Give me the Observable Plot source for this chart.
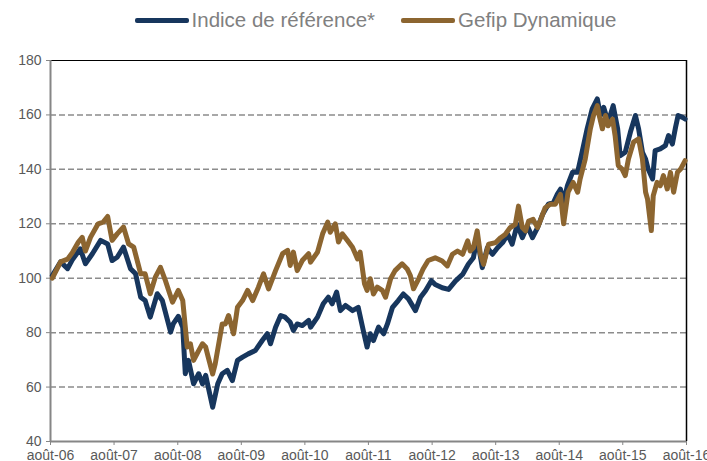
<!DOCTYPE html>
<html>
<head>
<meta charset="utf-8">
<script src="https://cdn.jsdelivr.net/npm/d3@7"></script>
<script src="https://cdn.jsdelivr.net/npm/@observablehq/plot@0.6"></script>
<style>
  html, body { margin: 0; padding: 0; background: #fff; overflow: hidden; }
  #wrap { width: 707px; height: 461px; overflow: hidden; position: relative; font-family: Arial, "Liberation Sans", sans-serif; }
  #legend { height: 40px; display: flex; justify-content: center; align-items: center; gap: 26px; font-size: 20.5px; color: #808080; padding-left: 44px; box-sizing: border-box; }
  #legend span.item { display: flex; align-items: center; }
  #legend span.sw { display: inline-block; width: 54px; height: 5px; border-radius: 2px; margin-right: 3px; }
</style>
</head>
<body>
<div id="wrap">
  <div id="legend"></div>
  <div id="chart"></div>
</div>
<script>
// ---- data (decimal years, index values) ----
const seriesNames = ["Indice de référence*", "Gefip Dynamique"];
const seriesColors = ["#17365d", "#8c6530"];

const indiceT = [2006.61,2006.74,2006.85,2006.93,2007.05,2007.13,2007.24,2007.37,2007.48,2007.55,2007.63,2007.73,2007.84,2007.92,2008.00,2008.07,2008.15,2008.26,2008.34,2008.47,2008.51,2008.59,2008.66,2008.70,2008.75,2008.83,2008.91,2008.97,2009.02,2009.06,2009.13,2009.21,2009.28,2009.36,2009.44,2009.52,2009.60,2009.69,2009.80,2009.91,2009.99,2010.04,2010.12,2010.20,2010.27,2010.35,2010.40,2010.46,2010.54,2010.64,2010.67,2010.78,2010.87,2010.95,2011.01,2011.08,2011.14,2011.22,2011.33,2011.42,2011.50,2011.56,2011.61,2011.66,2011.74,2011.82,2011.88,2011.96,2012.05,2012.13,2012.21,2012.32,2012.40,2012.48,2012.57,2012.63,2012.74,2012.84,2012.95,2013.06,2013.15,2013.23,2013.29,2013.37,2013.45,2013.53,2013.61,2013.69,2013.77,2013.84,2013.92,2014.00,2014.08,2014.16,2014.24,2014.32,2014.41,2014.49,2014.55,2014.60,2014.65,2014.71,2014.79,2014.87,2014.94,2015.02,2015.10,2015.18,2015.23,2015.28,2015.35,2015.43,2015.50,2015.54,2015.62,2015.70,2015.78,2015.83,2015.89,2015.94,2015.98,2016.05,2016.09,2016.17,2016.25,2016.30,2016.36,2016.41,2016.45,2016.52,2016.56];
const indiceV = [101,106,103.5,107,110.8,105.3,109,113.9,112.6,106.5,107.7,111.4,103.5,101.6,93,91.8,85.7,94.3,91.8,80.2,83.2,86,82,64.9,69.8,61.2,64.9,61.2,64.3,60,52.6,61.2,64.9,66.1,62.4,69.8,71,72.2,73.4,77.1,79.6,75.9,82,86.3,85.7,83.8,80.8,83.2,82.6,84.5,82,85.7,90.6,93,90.6,94.9,88.1,90,88.1,89.3,80.8,74.7,79.6,77.1,82,79.6,83.2,89.3,91.8,94.2,92.4,88.1,93,95.5,99.1,97.7,96.5,95.9,99,101.4,105.1,107.5,114.9,103.9,111.2,108.8,111.2,113.1,116.1,112.5,119.8,114.9,119.2,114.9,118.6,123.5,127.2,127.8,130.8,132.7,128,134,138.9,138.9,146.3,154.9,162.2,165.9,159.8,162.8,157.3,163.4,154.9,145,146.3,153.6,159.8,154.9,146.3,143.8,140.1,136.5,146.9,147.5,148.7,152.4,149.3,155.5,159.8,159.1,158.5];

const gefipT = [2006.61,2006.74,2006.85,2006.93,2007.02,2007.08,2007.13,2007.21,2007.33,2007.41,2007.48,2007.55,2007.63,2007.73,2007.81,2007.89,2008.00,2008.07,2008.15,2008.23,2008.31,2008.39,2008.50,2008.59,2008.66,2008.73,2008.78,2008.83,2008.91,2008.97,2009.02,2009.06,2009.13,2009.17,2009.28,2009.33,2009.38,2009.46,2009.52,2009.60,2009.68,2009.76,2009.85,2009.93,2010.01,2010.12,2010.23,2010.31,2010.35,2010.40,2010.46,2010.54,2010.64,2010.67,2010.78,2010.86,2010.94,2010.98,2011.06,2011.11,2011.17,2011.25,2011.33,2011.41,2011.45,2011.52,2011.56,2011.61,2011.66,2011.72,2011.80,2011.85,2011.93,2012.00,2012.11,2012.19,2012.24,2012.29,2012.37,2012.44,2012.52,2012.63,2012.74,2012.82,2012.90,2012.98,2013.06,2013.14,2013.18,2013.23,2013.29,2013.34,2013.39,2013.47,2013.58,2013.66,2013.73,2013.81,2013.89,2013.94,2014.00,2014.05,2014.10,2014.17,2014.24,2014.28,2014.36,2014.44,2014.52,2014.60,2014.65,2014.72,2014.80,2014.87,2014.91,2014.99,2015.07,2015.12,2015.18,2015.21,2015.26,2015.31,2015.35,2015.42,2015.46,2015.51,2015.57,2015.62,2015.67,2015.75,2015.83,2015.89,2015.94,2015.97,2016.03,2016.06,2016.12,2016.17,2016.22,2016.28,2016.33,2016.38,2016.44,2016.49,2016.56];
const gefipV = [100,106,107,109.6,113.3,115,110,115,120,120.6,122.7,113.9,116.3,118.8,112.6,111.4,101.6,101.6,94.3,100.4,104,99,91.2,95.5,91.8,74.7,75.9,69.8,73.4,75.9,74.7,71,64.8,68.5,83.2,83.2,86.3,79.6,89.3,91.8,95.5,91.8,96.7,101.6,96.1,102.8,109,110.2,104.7,109.6,102.8,106.5,109,105.9,109.6,116.3,120.6,116.9,120,113.3,116.3,113.9,111.4,107.1,109.6,97.9,95.5,99.8,94.2,96.7,95.5,93,99.8,102.8,105.3,103.4,101,96.1,99.8,103.4,106.5,107.5,106.3,104.5,108.8,110,108.8,113.7,110,111.2,117.4,108.8,105.1,112.5,113.1,114.9,116.1,118.6,119.8,126.5,118.6,117.4,121,121.6,118.6,121,125.9,127.2,127.2,130.8,120,131.6,135.2,131.6,136.5,143.8,154.9,159.8,163.4,159.8,154.9,159.8,156,158.5,152.4,141.4,140.1,137.7,143.8,150,151.2,143.8,131.6,129.1,117.5,130.3,135.2,134,137.7,132.8,138.9,131.6,138.9,140.1,143.2];

const yTicks = [40, 60, 80, 100, 120, 140, 160, 180];
const xTickLabels = ["août-06","août-07","août-08","août-09","août-10","août-11","août-12","août-13","août-14","août-15","août-16"];

// ---- helpers ----
function dec2date(t) {
  const y = Math.floor(t);
  const a = new Date(y, 0, 1), b = new Date(y + 1, 0, 1);
  return new Date(+a + (t - y) * (b - a));
}
const xTicks = xTickLabels.map(s => new Date(2000 + +s.slice(-2), 7, 1));
const x0 = xTicks[0], x1 = xTicks[xTicks.length - 1];

const data = [];
indiceT.forEach((t, i) => data.push({date: dec2date(t), value: indiceV[i], series: seriesNames[0]}));
gefipT.forEach((t, i) => data.push({date: dec2date(t), value: gefipV[i], series: seriesNames[1]}));

// ---- legend ----
const legend = document.getElementById("legend");
seriesNames.forEach((n, i) => {
  const it = document.createElement("span");
  it.className = "item";
  it.innerHTML = `<span class="sw" style="background:${seriesColors[i]}"></span>${n}`;
  legend.appendChild(it);
});

// ---- chart ----
const grey = "#868686";
const chart = Plot.plot({
  width: 707,
  height: 450,
  marginTop: 20,
  marginLeft: 50,
  marginRight: 21,
  marginBottom: 49,
  style: {fontFamily: "Arial, 'Liberation Sans', sans-serif", fontSize: "14px", background: "#fff"},
  x: {type: "time", domain: [x0, x1]},
  y: {domain: [40, 180]},
  marks: [
    Plot.ruleY(yTicks.filter(d => d > 40 && d < 180), {stroke: "#8c8c8c", strokeWidth: 1.5, strokeDasharray: "6,3"}),
    Plot.ruleY([180], {stroke: "#000", strokeWidth: 1.2}),
    Plot.ruleX([x1], {stroke: "#000", strokeWidth: 1.5}),
    Plot.ruleX([x0], {stroke: grey, strokeWidth: 2}),
    Plot.ruleY([40], {stroke: grey, strokeWidth: 2}),
    Plot.axisY({ticks: yTicks, tickSize: 4, tickPadding: 5, stroke: grey, fill: "#595959", label: null}),
    Plot.axisX({ticks: xTicks, tickSize: 4, tickPadding: 5, stroke: grey, fill: "#595959",
                tickFormat: (d, i) => xTickLabels[i], label: null}),
    Plot.line(data, {x: "date", y: "value", z: "series",
                     stroke: d => seriesColors[seriesNames.indexOf(d.series)],
                     strokeWidth: 5, strokeLinejoin: "round", strokeLinecap: "round"})
  ]
});
document.getElementById("chart").appendChild(chart);
</script>
</body>
</html>
